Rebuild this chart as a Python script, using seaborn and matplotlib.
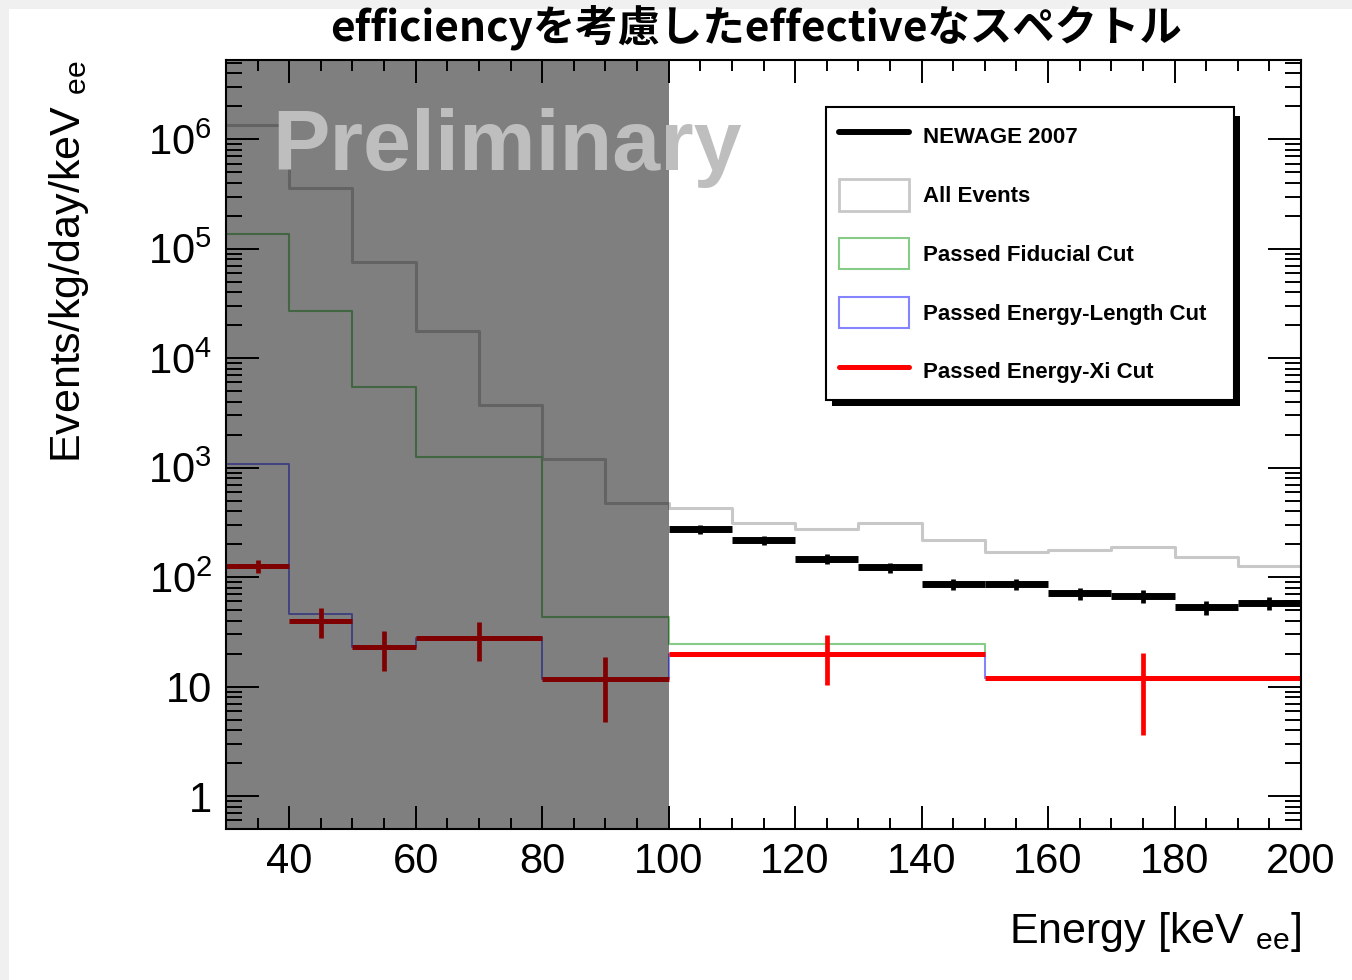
import numpy as np
import matplotlib
matplotlib.use("Agg")
import matplotlib.pyplot as plt
import seaborn as sns
from matplotlib.lines import Line2D
from matplotlib.patches import Patch, Rectangle
from matplotlib.ticker import (FixedLocator, FixedFormatter, LogLocator,
                               MultipleLocator, NullFormatter)

# ---------------- data ----------------
# 10 keV binning for the raw spectrum
all_edges = [30, 40, 50, 60, 70, 80, 90, 100, 110, 120, 130, 140, 150,
             160, 170, 180, 190, 200]
all_events = [1.34e6, 3.6e5, 7.5e4, 1.78e4, 3.7e3, 1.2e3, 480, 430, 311,
              275, 311, 218, 169, 176, 188, 152, 126]

# coarser binning after the cuts
cut_edges = [30, 40, 50, 60, 80, 100, 150, 200]
fiducial = [1.35e5, 2.7e4, 5.4e3, 1.26e3, 43, 24.5, 12]
energy_length = [1070, 46, 23, 28, 11.7, 20, 12]
energy_xi = [126, 40, 23, 28, 11.7, 20, 12]
energy_xi_err = [18, 12, 9, 11, 7, 9.7, 8.4]

# NEWAGE 2007 reference spectrum
newage_edges = [100, 110, 120, 130, 140, 150, 160, 170, 180, 190, 200]
newage = [275, 217, 146, 123, 86, 86, 71, 67, 53, 58]
newage_err = [27, 22, 15, 13, 10, 10, 9, 9, 8, 8]

x_ticks = [40, 60, 80, 100, 120, 140, 160, 180, 200]
x_tick_labels = ["40", "60", "80", "100", "120", "140", "160", "180", "200"]
y_ticks = [1, 10, 1e2, 1e3, 1e4, 1e5, 1e6]
y_tick_labels = ["1", "10", r"$\mathregular{10^{2}}$", r"$\mathregular{10^{3}}$",
                 r"$\mathregular{10^{4}}$", r"$\mathregular{10^{5}}$",
                 r"$\mathregular{10^{6}}$"]

legend_labels = ["NEWAGE 2007", "All Events", "Passed Fiducial Cut",
                 "Passed Energy-Length Cut", "Passed Energy-Xi Cut"]
title = "efficiencyを考慮したeffectiveなスペクトル"

# ---------------- style ----------------
sns.set_style("ticks")
plt.rcParams["font.family"] = ["Liberation Sans", "DejaVu Sans"]
plt.rcParams["mathtext.fontset"] = "custom"
plt.rcParams["mathtext.rm"] = "Liberation Sans"
plt.rcParams["mathtext.it"] = "Liberation Sans:italic"
plt.rcParams["mathtext.bf"] = "Liberation Sans:bold"
plt.rcParams["text.color"] = "black"
plt.rcParams["axes.labelcolor"] = "black"
plt.rcParams["xtick.color"] = "black"
plt.rcParams["ytick.color"] = "black"

GRAY = "#c8c8c8"
GREEN = "#86cc86"
BLUE = "#8484ff"
RED = "#ff0000"

W, H = 1352, 980
fig = plt.figure(figsize=(W / 100, H / 100), dpi=100, facecolor="#f0f0f0")
fig.add_artist(Rectangle((9 / W, 0), 1, 1 - 9 / H, transform=fig.transFigure,
                         facecolor="white", edgecolor="none", zorder=-10))
ax = fig.add_axes([226 / W, 1 - 829 / H, 1075 / W, 769 / H])
ax.set_facecolor("white")
ax.set_yscale("log")


def centers(edges):
    e = np.asarray(edges, dtype=float)
    return (e[:-1] + e[1:]) / 2


def halfwidths(edges):
    e = np.asarray(edges, dtype=float)
    return (e[1:] - e[:-1]) / 2


# step histograms
for edges, vals, col, lw in [(all_edges, all_events, GRAY, 2.2),
                             (cut_edges, fiducial, GREEN, 1.5),
                             (cut_edges, energy_length, BLUE, 1.4)]:
    sns.histplot(x=centers(edges), weights=vals, bins=edges, element="step",
                 fill=False, color=col, linewidth=lw, ax=ax, zorder=1)

# energy-xi cut: horizontal bin bars with vertical error bars
xc = centers(cut_edges)
ax.errorbar(xc, energy_xi, xerr=halfwidths(cut_edges), fmt="none",
            ecolor=RED, elinewidth=3.6, capsize=0, zorder=1.3)
ax.errorbar(xc, energy_xi, yerr=energy_xi_err, fmt="none",
            ecolor=RED, elinewidth=3.4, capsize=0, zorder=1.3)

# NEWAGE 2007
nc = centers(newage_edges)
ax.errorbar(nc, newage, xerr=halfwidths(newage_edges), fmt="none",
            ecolor="black", elinewidth=5.0, capsize=0, zorder=1.4)
ax.errorbar(nc, newage, yerr=newage_err, fmt="none",
            ecolor="black", elinewidth=3.4, capsize=0, zorder=1.4)

# shaded low-energy region
ax.axvspan(30, 100, facecolor="black", alpha=0.5, lw=0, zorder=2)

ax.text(0.0428, 0.857, "Preliminary", transform=ax.transAxes, fontsize=62,
        fontweight="bold", color="#bebebe", va="baseline", ha="left", zorder=3)

# axes
ax.set_xlim(30, 200)
ax.set_ylim(0.5, 5.3e6)
ax.xaxis.set_major_locator(FixedLocator(x_ticks))
ax.xaxis.set_major_formatter(FixedFormatter(x_tick_labels))
ax.xaxis.set_minor_locator(MultipleLocator(5))
ax.yaxis.set_major_locator(FixedLocator(y_ticks))
ax.yaxis.set_major_formatter(FixedFormatter(y_tick_labels))
ax.yaxis.set_minor_locator(LogLocator(base=10, subs=np.arange(2, 10), numticks=30))
ax.yaxis.set_minor_formatter(NullFormatter())

ax.tick_params(which="both", direction="in", top=True, right=True,
               width=1.4, color="black", labelcolor="black")
ax.tick_params(axis="x", which="major", length=16.5, pad=9, labelsize=30)
ax.tick_params(axis="x", which="minor", length=8)
ax.tick_params(axis="y", which="major", length=24, pad=10, labelsize=30)
ax.tick_params(axis="y", which="minor", length=11.5)
for s in ax.spines.values():
    s.set_visible(True)
    s.set_linewidth(1.5)
    s.set_color("black")

ax.set_xlabel(r"Energy [keV $_{\mathregular{ee}}$]", fontsize=31, loc="right")
ax.xaxis.set_label_coords(1.0, -0.105)
ax.set_ylabel(r"Events/kg/day/keV $_{\mathregular{ee}}$", fontsize=31, loc="top")
ax.yaxis.set_label_coords(-0.126, 1.0)

fig.text(756 / W, 1 - 27 / H, title, ha="center", va="center", fontsize=30.5,
         fontweight="bold", family=["Noto Sans CJK JP", "DejaVu Sans"])

# legend with a solid drop shadow
handles = [Line2D([], [], color="black", lw=4.3),
           Patch(facecolor="white", edgecolor=GRAY, lw=2.0),
           Patch(facecolor="white", edgecolor=GREEN, lw=1.5),
           Patch(facecolor="white", edgecolor=BLUE, lw=1.5),
           Line2D([], [], color=RED, lw=3.6)]
leg = ax.legend(handles, legend_labels, loc="upper left",
                bbox_to_anchor=(600 / 1075, 0, 408 / 1075, (829 - 107) / 769),
                mode="expand", borderaxespad=0, fancybox=False, framealpha=1,
                edgecolor="black", prop=dict(family="Liberation Sans",
                                             weight="bold", size=16),
                handlelength=3.15, handleheight=1.8, handletextpad=0.6,
                labelspacing=1.23, borderpad=0.6)
leg.get_frame().set_linewidth(1.5)
leg.set_zorder(5)

fig.canvas.draw()
bb = leg.get_frame().get_window_extent()
inv = ax.transAxes.inverted()
(sx0, sy0), (sx1, sy1) = inv.transform([[bb.x0 + 6, bb.y0 - 6],
                                        [bb.x1 + 6, bb.y1 - 9]])
ax.add_patch(Rectangle((sx0, sy0), sx1 - sx0, sy1 - sy0, transform=ax.transAxes,
                       facecolor="black", edgecolor="none", zorder=4.9,
                       clip_on=False))

fig.savefig("out.png", dpi=100, facecolor=fig.get_facecolor())
